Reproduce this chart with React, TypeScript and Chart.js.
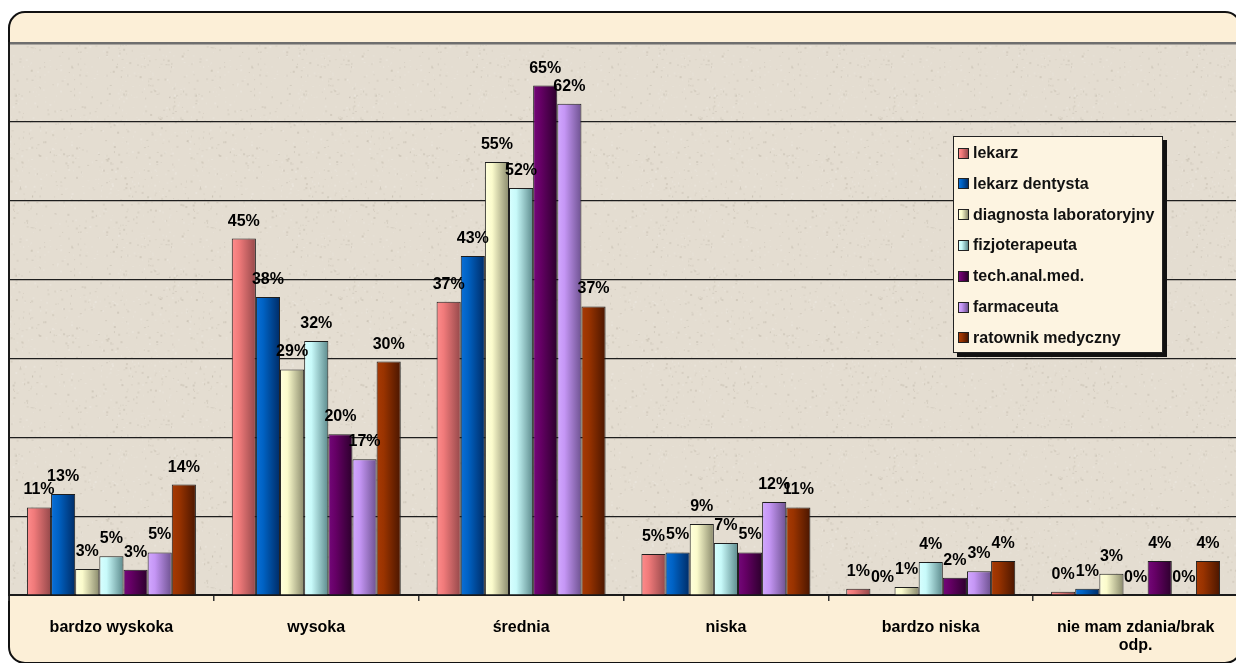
import React, { useEffect, useRef } from 'react';
import { Chart, registerables } from 'chart.js';
Chart.register(...registerables);

// ---- data ----
const categories: string[][] = [
  ['bardzo wyskoka'],
  ['wysoka'],
  ['średnia'],
  ['niska'],
  ['bardzo niska'],
  ['nie mam zdania/brak', 'odp.'],
];
const seriesNames = [
  'lekarz',
  'lekarz dentysta',
  'diagnosta laboratoryjny',
  'fizjoterapeuta',
  'tech.anal.med.',
  'farmaceuta',
  'ratownik medyczny',
];
const lekarz = [11.1, 45.2, 37.2, 5.2, 0.8, 0.4];
const lekarzDentysta = [12.8, 37.8, 43.0, 5.4, 0, 0.8];
const diagnostaLaboratoryjny = [3.3, 28.6, 54.9, 9.0, 1.0, 2.7];
const fizjoterapeuta = [4.9, 32.2, 51.6, 6.6, 4.2, 0];
const techAnalMed = [3.2, 20.4, 64.6, 5.4, 2.2, 4.3];
const farmaceuta = [5.4, 17.2, 62.3, 11.8, 3.0, 0];
const ratownikMedyczny = [14.0, 29.6, 36.6, 11.1, 4.3, 4.3];
const seriesValues = [
  lekarz,
  lekarzDentysta,
  diagnostaLaboratoryjny,
  fizjoterapeuta,
  techAnalMed,
  farmaceuta,
  ratownikMedyczny,
];
const yMax = 70;
const yStep = 10;

// ---- styles ----
const baseColors = ['#f07a7a', '#0062c4', '#fbfbcc', '#c8fafa', '#660066', '#c596f5', '#993300'];
const lightColors = ['#ff8c8c', '#0a70d8', '#ffffdc', '#d8ffff', '#74087a', '#d2a8ff', '#a83a04'];
const darkColors = ['#94484a', '#002c66', '#8a8a6c', '#5c8a8c', '#2c002c', '#6e5290', '#4a1600'];
const CAT_PCT = 0.825;
const FONT = '"Liberation Sans", Arial, sans-serif';

function makeNoise(base: string, w: number, h: number, seed: number, dark: string, light: string) {
  const cv = document.createElement('canvas');
  cv.width = w;
  cv.height = h;
  const c = cv.getContext('2d')!;
  c.fillStyle = base;
  c.fillRect(0, 0, w, h);
  let s = seed;
  const rnd = () => {
    s = (s * 1103515245 + 12345) & 0x7fffffff;
    return s / 0x7fffffff;
  };
  for (let i = 0; i < 900; i++) {
    const x = rnd() * w;
    const y = rnd() * h;
    const r = rnd();
    c.fillStyle = r < 0.5 ? dark : light;
    c.globalAlpha = 0.08 + rnd() * 0.12;
    c.fillRect(x, y, 1 + Math.floor(rnd() * 2), 1 + Math.floor(rnd() * 2));
  }
  c.globalAlpha = 1;
  return cv;
}

function barFill(ctx: any, di: number) {
  const chart = ctx.chart;
  const xs = chart.scales && chart.scales.x;
  if (!xs || ctx.type !== 'data' || !chart.chartArea) return baseColors[di];
  const center = xs.getPixelForValue(ctx.dataIndex);
  const catW = xs.width / categories.length;
  const groupW = catW * CAT_PCT;
  const bw = groupW / seriesNames.length;
  const left = center - groupW / 2 + di * bw;
  const g = chart.ctx.createLinearGradient(left, 0, left + bw, 0);
  g.addColorStop(0, lightColors[di]);
  g.addColorStop(0.3, baseColors[di]);
  g.addColorStop(1, darkColors[di]);
  return g;
}

const bgPlugin = {
  id: 'plotBg',
  beforeDraw(chart: any) {
    const { ctx, chartArea } = chart;
    if (!chartArea) return;
    const tex = makeNoise('#e4ddd1', 180, 180, 12345, '#8a8070', '#ffffff');
    const pat = ctx.createPattern(tex, 'repeat');
    ctx.save();
    ctx.fillStyle = pat || '#e4ddd1';
    ctx.fillRect(chartArea.left, chartArea.top, chartArea.right - chartArea.left, chartArea.bottom - chartArea.top);
    ctx.restore();
  },
};

const labelPlugin = {
  id: 'valueLabels',
  afterDatasetsDraw(chart: any) {
    const c = chart.ctx;
    c.save();
    c.font = `bold 16px ${FONT}`;
    c.fillStyle = '#000';
    c.textAlign = 'center';
    c.textBaseline = 'alphabetic';
    chart.data.datasets.forEach((ds: any, di: number) => {
      const meta = chart.getDatasetMeta(di);
      meta.data.forEach((el: any, i: number) => {
        const v = ds.data[i] as number;
        c.fillText(`${Math.round(v)}%`, el.x, el.y - 13);
      });
    });
    c.restore();
  },
};

export default function App() {
  const ref = useRef<HTMLCanvasElement | null>(null);

  useEffect(() => {
    if (!ref.current) return;
    const chart = new Chart(ref.current, {
      type: 'bar',
      data: {
        labels: categories,
        datasets: seriesNames.map((name, di) => ({
          label: name,
          data: seriesValues[di],
          backgroundColor: (ctx: any) => barFill(ctx, di),
          borderColor: '#1e1e1e',
          borderWidth: 1,
          borderSkipped: 'start',
          categoryPercentage: CAT_PCT,
          barPercentage: 1,
        })),
      },
      options: {
        responsive: false,
        animation: false,
        layout: { padding: { left: 9, top: 43, right: 2, bottom: 0 } },
        plugins: {
          legend: { display: false },
          title: { display: false },
          tooltip: { enabled: false },
        },
        scales: {
          x: {
            offset: true,
            grid: {
              display: true,
              offset: true,
              drawOnChartArea: false,
              drawTicks: true,
              tickLength: 6,
              color: '#333',
              lineWidth: 1.5,
            },
            border: { display: true, color: '#1a1a1a', width: 2 },
            ticks: {
              autoSkip: false,
              maxRotation: 0,
              minRotation: 0,
              padding: 18,
              color: '#000',
              font: { family: FONT, size: 16, weight: 'bold', lineHeight: 1.12 },
            },
            afterFit: (s: any) => {
              s.height = 68;
            },
          },
          y: {
            min: 0,
            max: yMax,
            ticks: { display: false, stepSize: yStep },
            grid: {
              drawTicks: false,
              color: (c: any) => (c.tick && c.tick.value === yMax ? '#6e6e6e' : '#1e1e1e'),
              lineWidth: (c: any) => (c.tick && c.tick.value === yMax ? 2.5 : 1.2),
            },
            border: { display: true, color: '#1a1a1a', width: 2 },
            afterFit: (s: any) => {
              s.width = 0;
            },
          },
        },
      },
      plugins: [bgPlugin, labelPlugin],
    } as any);
    return () => chart.destroy();
  }, []);

  const legendRowH = 30.8;

  return (
    <div
      style={{
        position: 'fixed',
        left: 0,
        top: 0,
        width: 1236,
        height: 663,
        overflow: 'hidden',
        background: '#ffffff',
      }}
    >
      <div
        style={{
          position: 'absolute',
          left: 8,
          top: 11,
          width: 1230,
          height: 649,
          border: '2px solid #111',
          borderRadius: 17,
          background: '#fcefd7',
        }}
      />
      <canvas
        ref={ref}
        width={1240}
        height={663}
        style={{ position: 'absolute', left: 0, top: 0, width: 1240, height: 663 }}
      />
      <div
        style={{
          position: 'absolute',
          left: 953,
          top: 136,
          width: 208,
          height: 215,
          background: '#fdf4e1',
          border: '1px solid #222',
          boxShadow: '4px 4px 0 #111',
          fontFamily: FONT,
          fontWeight: 'bold',
          fontSize: 16,
          color: '#111',
        }}
      >
        {seriesNames.map((name, di) => (
          <div
            key={name}
            style={{
              position: 'absolute',
              left: 4,
              top: 6 + di * legendRowH,
              height: 20,
              display: 'flex',
              alignItems: 'center',
              whiteSpace: 'nowrap',
            }}
          >
            <span
              style={{
                display: 'inline-block',
                width: 9,
                height: 9,
                border: '1px solid #222',
                background: `linear-gradient(to right, ${lightColors[di]}, ${baseColors[di]} 30%, ${darkColors[di]})`,
                marginRight: 4,
              }}
            />
            <span>{name}</span>
          </div>
        ))}
      </div>
    </div>
  );
}
